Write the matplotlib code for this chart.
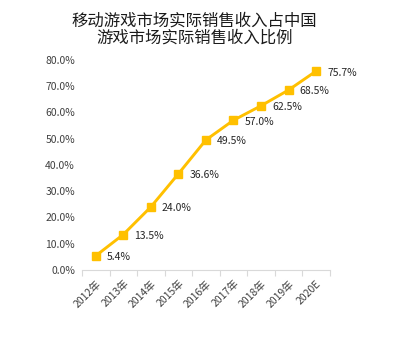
import matplotlib
matplotlib.use("Agg")
import matplotlib.pyplot as plt
import numpy as np

plt.rcParams['font.family'] = ['Noto Sans CJK SC', 'DejaVu Sans']

# --- Data ---
years = ["2012年", "2013年", "2014年", "2015年", "2016年", "2017年", "2018年", "2019年", "2020E"]
share = [5.4, 13.5, 24.0, 36.6, 49.5, 57.0, 62.5, 68.5, 75.7]
y_ticks = [0, 10, 20, 30, 40, 50, 60, 70, 80]
title = "移动游戏市场实际销售收入占中国\n游戏市场实际销售收入比例"

LINE_COLOR = "#FFC000"
TEXT_COLOR = "#404040"

fig = plt.figure(figsize=(3.95, 3.4), dpi=100)
fig.patch.set_facecolor("white")
ax = fig.add_axes([0.2076, 0.206, 0.6274, 0.618])

x = np.arange(len(years))
ax.plot(x, share, color=LINE_COLOR, lw=2.1, marker="s", ms=6,
        markerfacecolor=LINE_COLOR, markeredgecolor=LINE_COLOR, zorder=3)

for xi, v in zip(x, share):
    ax.annotate(f"{v:.1f}%", (xi, v), xytext=(8, -1), textcoords="offset points",
                ha="left", va="center", fontsize=7.5, color="#262626")

ax.set_xlim(-0.5, len(years) - 0.5)
ax.set_ylim(0, 80)
ax.set_yticks(y_ticks)
ax.set_yticklabels([f"{t:.1f}%" for t in y_ticks], fontsize=7.5, color=TEXT_COLOR)

# category labels at centers, tick marks on the boundaries
ax.set_xticks(x)
ax.set_xticklabels(years, rotation=45, ha="right", rotation_mode="anchor",
                   fontsize=7.5, color=TEXT_COLOR)
ax.tick_params(axis="x", which="major", length=0, pad=6)
ax.set_xticks(np.arange(-0.5, len(years)), minor=True)
ax.tick_params(axis="x", which="minor", length=4, color="#D9D9D9", width=0.8)
ax.tick_params(axis="y", length=0, pad=5)

for side in ["top", "right", "left"]:
    ax.spines[side].set_visible(False)
ax.spines["bottom"].set_color("#D9D9D9")
ax.spines["bottom"].set_linewidth(0.8)

fig.text(0.493, 0.962, title, ha="center", va="top", fontsize=11.8,
         color="#1a1a1a", linespacing=0.95)

fig.savefig("out.png", dpi=100, facecolor="white")
